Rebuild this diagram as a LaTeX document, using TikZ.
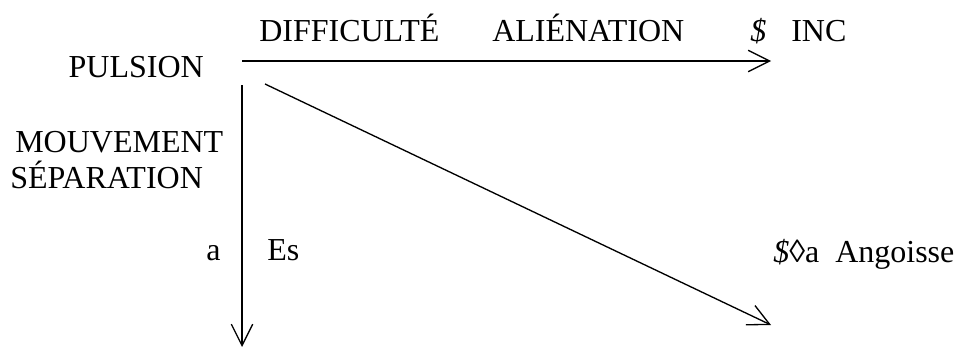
\documentclass[tikz,border=0pt]{standalone}
\usepackage{fontspec}
\setmainfont{Liberation Serif}
\usetikzlibrary{arrows.meta,positioning}

\begin{document}
\begin{tikzpicture}[x=0.75pt, y=-0.75pt, >={Straight Barb[length=16pt,width=16pt]}, font=\fontsize{24}{28}\selectfont]
\tikzstyle{lbl}=[inner sep=0pt, anchor=base west]
\tikzstyle{link}=[->, line width=1pt, black]
\useasboundingbox (0,0) rectangle (955,346);

% labels
\node[lbl, anchor=base east] (pulsion) at (204,78) {PULSION};
\node[lbl] (difficulte) at (259,41) {DIFFICULTÉ};
\node[lbl] (alienation) at (492,41) {ALIÉNATION};
\node[lbl] (sbarre) at (750,42) {\textit{\$}};
\node[lbl] (inc) at (791,42) {INC};
\node[lbl] (mouvement) at (15,152) {MOUVEMENT};
\node[lbl] (separation) at (10,188) {SÉPARATION};
\node[lbl] (a) at (206,260) {a};
\node[lbl] (es) at (267,260) {Es};
\node[lbl] (angoisse) at (773,262) {\textit{\$}◊a\hspace{0.5em}Angoisse};

% arrow ends
\coordinate (hstart) at (242,61);
\coordinate (hend) at (771,61);
\coordinate (vstart) at (242,85);
\coordinate (vend) at (242,347);
\coordinate (dstart) at (265,84);
\coordinate (dend) at (771,325);

\draw[link] (hstart) -- (hend);
\draw[link] (vstart) -- (vend);
\draw[link] (dstart) -- (dend);
\end{tikzpicture}
\end{document}
